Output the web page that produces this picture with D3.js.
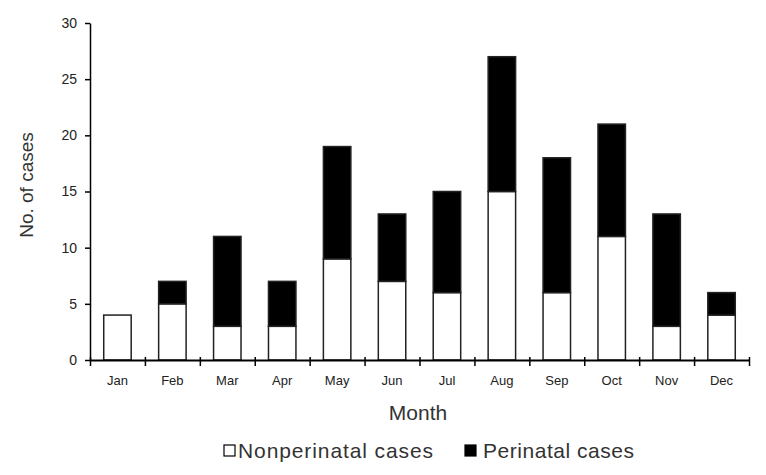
<!DOCTYPE html>
<html>
<head>
<meta charset="utf-8">
<script src="https://cdn.jsdelivr.net/npm/d3@7/dist/d3.min.js"></script>
<style>
  html, body { margin: 0; padding: 0; background: #fff; }
  svg { display: block; font-family: "Liberation Sans", Arial, sans-serif; }
</style>
</head>
<body>
<svg id="chart" width="766" height="475"></svg>
<script>
const months = ["Jan","Feb","Mar","Apr","May","Jun","Jul","Aug","Sep","Oct","Nov","Dec"];
const nonperinatal = [4, 5, 3, 3, 9, 7, 6, 15, 6, 11, 3, 4];
const perinatal = [0, 2, 8, 4, 10, 6, 9, 12, 12, 10, 10, 2];
const yTicks = [0, 5, 10, 15, 20, 25, 30];
const seriesNames = ["Nonperinatal cases", "Perinatal cases"];

const svg = d3.select("#chart");
const mLeft = 90, mRight = 749, mTop = 23, mBottom = 360;

const x = d3.scaleBand().domain(months).range([mLeft, mRight]).paddingInner(0.5).paddingOuter(0.25);
const xb = d3.scaleLinear().domain([0, months.length]).range([mLeft, mRight]);
const y = d3.scaleLinear().domain([0, 30]).range([mBottom, mTop]);

// Bars
const data = months.map((m, i) => ({ m, a: nonperinatal[i], b: perinatal[i] }));
const g = svg.append("g");
g.selectAll("rect.non").data(data).join("rect")
  .attr("class", "non")
  .attr("x", d => x(d.m)).attr("width", x.bandwidth())
  .attr("y", d => y(d.a)).attr("height", d => y(0) - y(d.a))
  .attr("fill", "#fff").attr("stroke", "#222").attr("stroke-width", 1.5);
g.selectAll("rect.per").data(data.filter(d => d.b > 0)).join("rect")
  .attr("class", "per")
  .attr("x", d => x(d.m)).attr("width", x.bandwidth())
  .attr("y", d => y(d.a + d.b)).attr("height", d => y(d.a) - y(d.a + d.b))
  .attr("fill", "#000").attr("stroke", "#222").attr("stroke-width", 1.5);

// Y axis
const yAxis = svg.append("g").attr("transform", `translate(${mLeft},0)`)
  .call(d3.axisLeft(y).tickValues(yTicks).tickSize(5).tickPadding(8).tickSizeOuter(0));
yAxis.select(".domain").attr("stroke", "#000").attr("stroke-width", 1.5);
yAxis.selectAll(".tick line").attr("stroke", "#000").attr("stroke-width", 1.5);
yAxis.selectAll(".tick text").attr("font-size", 14).attr("fill", "#222")
  .attr("font-family", "Liberation Sans, Arial, sans-serif");

// X axis line and boundary ticks
const xAxis = svg.append("g").attr("transform", `translate(0,${mBottom})`)
  .call(d3.axisBottom(xb).tickValues(d3.range(0, months.length + 1)).tickFormat("").tickSize(6).tickSizeOuter(0));
xAxis.select(".domain").attr("stroke", "#000").attr("stroke-width", 2);
xAxis.selectAll(".tick line").attr("y1", -3).attr("y2", 6).attr("stroke", "#000").attr("stroke-width", 1.5);

// Month labels
const xLab = svg.append("g").attr("transform", `translate(0,${mBottom})`)
  .call(d3.axisBottom(x).tickSize(0).tickPadding(16));
xLab.select(".domain").remove();
xLab.selectAll(".tick text").attr("font-size", 13).attr("fill", "#222")
  .attr("font-family", "Liberation Sans, Arial, sans-serif");

// Axis titles
svg.append("text")
  .attr("transform", `translate(33,185) rotate(-90)`)
  .attr("text-anchor", "middle").attr("font-size", 19).attr("fill", "#333")
  .text("No. of cases");
svg.append("text")
  .attr("x", 418).attr("y", 420)
  .attr("text-anchor", "middle").attr("font-size", 21).attr("fill", "#333")
  .text("Month");

// Legend
const legend = svg.append("g");
const legendItems = [
  { name: seriesNames[0], fill: "#fff", bx: 224, tx: 238, w: 195 },
  { name: seriesNames[1], fill: "#000", bx: 465, tx: 483, w: 151 }
];
legend.selectAll("rect").data(legendItems).join("rect")
  .attr("x", d => d.bx).attr("y", 445).attr("width", 11).attr("height", 11)
  .attr("fill", d => d.fill).attr("stroke", "#000").attr("stroke-width", 1.2);
legend.selectAll("text").data(legendItems).join("text")
  .attr("x", d => d.tx).attr("y", 458).attr("font-size", 21).attr("fill", "#333")
  .attr("textLength", d => d.w).attr("lengthAdjust", "spacing")
  .text(d => d.name);
</script>
</body>
</html>
